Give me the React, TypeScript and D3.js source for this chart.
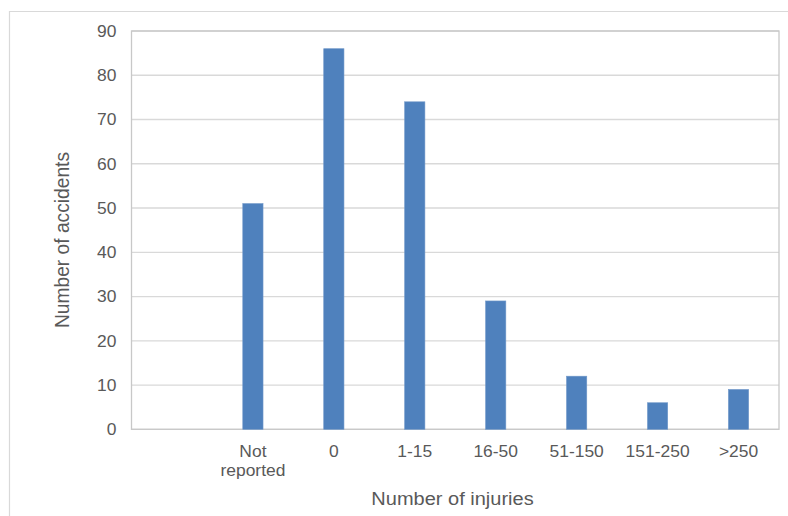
import React from "react";
import * as d3 from "d3";

const categories = ["", "Not reported", "0", "1-15", "16-50", "51-150", "151-250", ">250"];
const values: (number | null)[] = [null, 51, 86, 74, 29, 12, 6, 9];
const yTicks = [0, 10, 20, 30, 40, 50, 60, 70, 80, 90];
const yTitle = "Number of accidents";
const xTitle = "Number of injuries";

const W = 788;
const H = 516;
const plot = { left: 131.5, top: 31, right: 779, bottom: 429.3 };
const font = "'Liberation Sans', Arial, sans-serif";
const textColor = "#595959";
const SX = 1.07;
const tickSize = 16.3;

export default function App() {
  const ids = categories.map((c, i) => String(i));
  const x = d3.scaleBand<string>().domain(ids).range([plot.left, plot.right]).paddingInner(0.75).paddingOuter(0.375);
  const band = d3.scaleBand<string>().domain(ids).range([plot.left, plot.right]);
  const y = d3.scaleLinear().domain([0, 90]).range([plot.bottom, plot.top]);

  return (
    <div style={{ position: "fixed", left: 0, top: 0, width: W, height: H, background: "#fff" }}>
      <svg width={W} height={H} style={{ display: "block" }}>
        <rect x={0} y={0} width={W} height={H} fill="#fff" />
        {/* outer chart frame */}
        <path d={`M9.5,${H + 2} V11.5 H${W + 2}`} fill="none" stroke="#d9d9d9" strokeWidth={1.2} />
        {/* gridlines */}
        {yTicks.map((t) => (
          <line key={t} x1={plot.left} x2={plot.right} y1={y(t)} y2={y(t)} stroke="#d9d9d9" strokeWidth={1.3} />
        ))}
        {/* plot area border */}
        <rect
          x={plot.left}
          y={plot.top}
          width={plot.right - plot.left}
          height={plot.bottom - plot.top}
          fill="none"
          stroke="#c8c8c8"
          strokeWidth={1.3}
        />
        {/* bars */}
        {values.map((v, i) =>
          v == null ? null : (
            <rect
              key={i}
              x={x(String(i))}
              y={y(v)}
              width={x.bandwidth()}
              height={y(0) - y(v)}
              fill="#4f81bd"
              stroke="#6f97c9"
              strokeWidth={0.6}
            />
          )
        )}
        {/* y tick labels */}
        {yTicks.map((t) => (
          <g key={t} transform={`translate(116.5,${y(t)}) scale(${SX},1)`}>
            <text dy="0.36em" textAnchor="end" fontFamily={font} fontSize={tickSize} fill={textColor}>
              {t}
            </text>
          </g>
        ))}
        {/* x tick labels */}
        {categories.map((c, i) => {
          const cx = (band(String(i)) as number) + band.bandwidth() / 2;
          const words = c === "Not reported" ? ["Not", "reported"] : [c];
          return (
            <g key={i} transform={`translate(${cx},456.7) scale(${SX},1)`}>
              <text textAnchor="middle" fontFamily={font} fontSize={tickSize} fill={textColor}>
                {words.map((w, j) => (
                  <tspan key={j} x={0} y={j * 19.5}>
                    {w}
                  </tspan>
                ))}
              </text>
            </g>
          );
        })}
        {/* axis titles */}
        <g transform={`translate(69,240) scale(${SX},1) rotate(-90)`}>
          <text textAnchor="middle" fontFamily={font} fontSize={19.2} fill={textColor}>
            {yTitle}
          </text>
        </g>
        <g transform={`translate(452.5,505) scale(${SX},1)`}>
          <text textAnchor="middle" fontFamily={font} fontSize={18.7} fill={textColor}>
            {xTitle}
          </text>
        </g>
      </svg>
    </div>
  );
}
